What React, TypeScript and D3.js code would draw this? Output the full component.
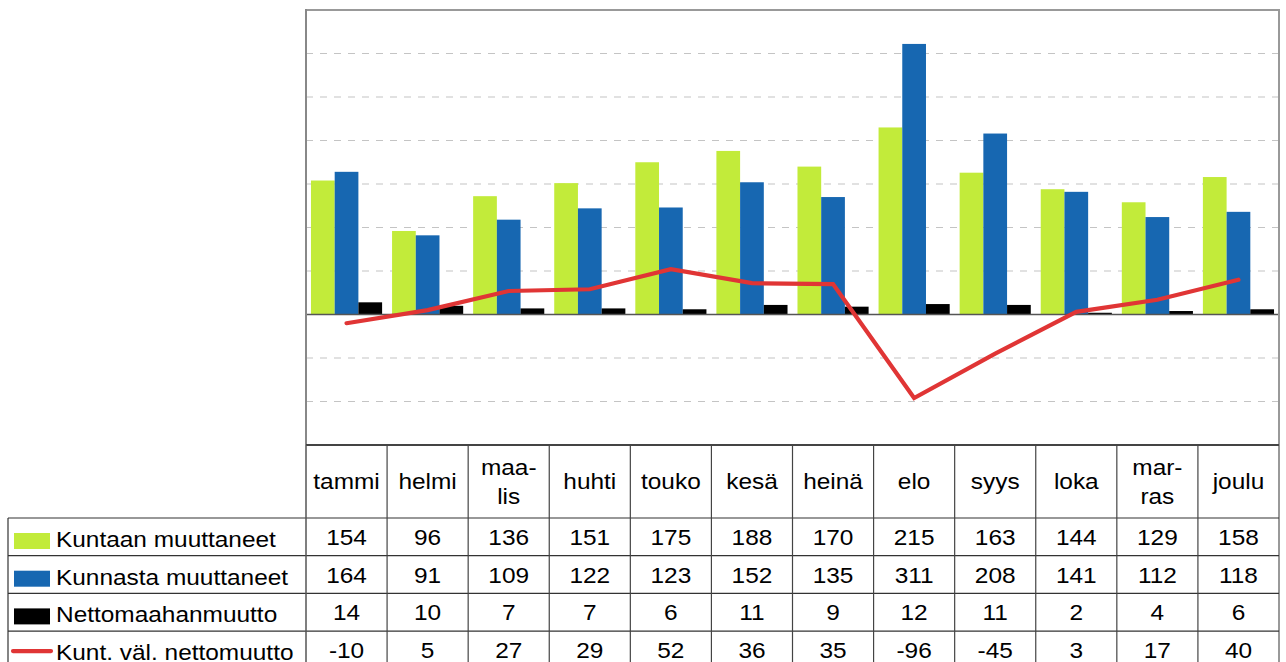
import React from "react";
import * as d3 from "d3";

const months = ["tammi", "helmi", "maa-\nlis", "huhti", "touko", "kesä", "heinä", "elo", "syys", "loka", "mar-\nras", "joulu"];
const kuntaan = [154, 96, 136, 151, 175, 188, 170, 215, 163, 144, 129, 158];
const kunnasta = [164, 91, 109, 122, 123, 152, 135, 311, 208, 141, 112, 118];
const nettomaahan = [14, 10, 7, 7, 6, 11, 9, 12, 11, 2, 4, 6];
const kuntVal = [-10, 5, 27, 29, 52, 36, 35, -96, -45, 3, 17, 40];
const seriesNames = ["Kuntaan muuttaneet", "Kunnasta muuttaneet", "Nettomaahanmuutto", "Kunt. väl. nettomuutto"];
const yTicks = [-150, -100, -50, 0, 50, 100, 150, 200, 250, 300, 350];

const COLORS = ["#c2eb3a", "#1767b1", "#000000", "#e03535"];
const FONT = "'Liberation Sans', Arial, sans-serif";

export default function App() {
  const plotLeft = 306, plotRight = 1279, plotTop = 10, plotBottom = 445;
  const legendLeft = 8;
  const headerBottom = 518;
  const rowH = 37.7;
  const fs = 22;
  const sx = 1.11;

  const x = d3.scaleBand<string>().domain(months).range([plotLeft, plotRight]).padding(0);
  const inner = d3.scaleBand<number>().domain([0, 1, 2]).range([0, x.bandwidth()]).paddingInner(0).paddingOuter(0.21);
  const y = d3.scaleLinear().domain([-150, 350]).range([plotBottom, plotTop]);

  const barSeries = [kuntaan, kunnasta, nettomaahan];
  const line = d3.line<number>()
    .x((_, i) => (x(months[i]) as number) + x.bandwidth() / 2)
    .y((d) => y(d));

  const rows = [kuntaan, kunnasta, nettomaahan, kuntVal];
  const rowTop = (r: number) => headerBottom + r * rowH;

  const T = (tx: number, ty: number, s: string, anchor: string, key: string) => (
    <text key={key} transform={`translate(${tx},${ty}) scale(${sx},1)`} textAnchor={anchor}
      fontFamily={FONT} fontSize={fs} fill="#000">{s}</text>
  );

  return (
    <svg width={1286} height={662} style={{ position: "absolute", left: 0, top: 0, display: "block" }}>
      <rect x={0} y={0} width={1286} height={662} fill="#fff" />
      {/* gridlines */}
      {yTicks.filter((t) => t !== 0 && t !== -150 && t !== 350).map((t) => (
        <line key={"g" + t} x1={plotLeft} x2={plotRight} y1={y(t)} y2={y(t)}
          stroke="#c4c4c4" strokeWidth={1.2} strokeDasharray="7,7" />
      ))}
      {/* bars */}
      {barSeries.map((vals, s) =>
        vals.map((v, i) => (
          <rect key={`b${s}-${i}`}
            x={(x(months[i]) as number) + (inner(s) as number)}
            y={y(Math.max(0, v))}
            width={inner.bandwidth()}
            height={Math.abs(y(v) - y(0))}
            fill={COLORS[s]} />
        ))
      )}
      {/* zero line */}
      <line x1={plotLeft} x2={plotRight} y1={y(0)} y2={y(0)} stroke="#555" strokeWidth={1.5} />
      {/* red line */}
      <path d={line(kuntVal) || ""} fill="none" stroke={COLORS[3]} strokeWidth={4.2}
        strokeLinecap="round" strokeLinejoin="miter" />
      {/* plot border */}
      <line x1={plotLeft} x2={plotRight} y1={plotTop} y2={plotTop} stroke="#999" strokeWidth={2} />
      <line x1={plotLeft} x2={plotLeft} y1={plotTop - 1} y2={plotBottom} stroke="#888" strokeWidth={2} />
      <line x1={plotRight} x2={plotRight} y1={plotTop - 1} y2={662} stroke="#999" strokeWidth={2} />

      {/* table lines */}
      <line x1={plotLeft} x2={plotRight} y1={plotBottom} y2={plotBottom} stroke="#444" strokeWidth={2} />
      {[0, 1, 2, 3].map((r) => (
        <line key={"h" + r} x1={legendLeft} x2={plotRight} y1={rowTop(r)} y2={rowTop(r)} stroke="#333" strokeWidth={1.2} />
      ))}
      <line x1={legendLeft} x2={legendLeft} y1={headerBottom} y2={662} stroke="#333" strokeWidth={1.2} />
      {months.map((m, i) => (
        <line key={"v" + i} x1={x(m) as number} x2={x(m) as number} y1={plotBottom} y2={662}
          stroke={i === 0 ? "#555" : "#444"} strokeWidth={i === 0 ? 1.5 : 1.2} />
      ))}

      {/* header labels */}
      {months.map((m, i) => {
        const cx = (x(m) as number) + x.bandwidth() / 2;
        const parts = m.split("\n");
        if (parts.length === 1) return T(cx, 489, m, "middle", "m" + i);
        return (
          <g key={"m" + i}>
            {T(cx, 475, parts[0], "middle", "m" + i + "a")}
            {T(cx, 504, parts[1], "middle", "m" + i + "b")}
          </g>
        );
      })}

      {/* data values */}
      {rows.map((vals, r) =>
        vals.map((v, i) => T((x(months[i]) as number) + x.bandwidth() / 2, rowTop(r) + 27, String(v), "middle", `d${r}-${i}`))
      )}

      {/* legend */}
      {seriesNames.map((n, r) => (
        <g key={"l" + r}>
          {r < 3 ? (
            <rect x={14} y={rowTop(r) + 15} width={36} height={16} fill={COLORS[r]} />
          ) : (
            <line x1={13} x2={51} y1={rowTop(r) + 20} y2={rowTop(r) + 20} stroke={COLORS[3]} strokeWidth={4.2} strokeLinecap="round" />
          )}
          {T(56, rowTop(r) + 29, n, "start", "lt" + r)}
        </g>
      ))}
    </svg>
  );
}
